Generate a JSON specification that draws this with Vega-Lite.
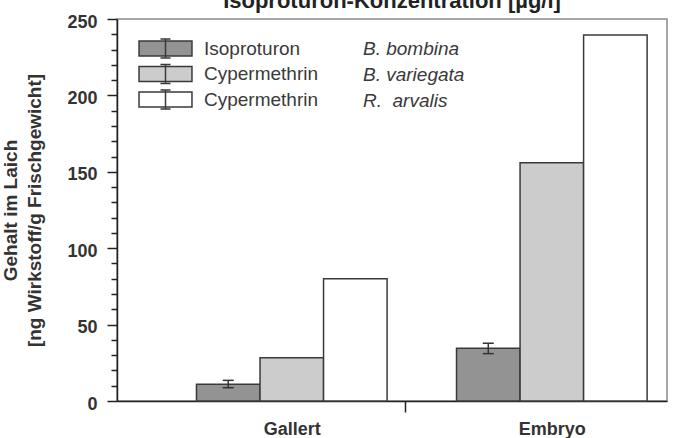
{
  "$schema": "https://vega.github.io/schema/vega-lite/v6.json",
  "width": 550,
  "height": 382,
  "autosize": {"type": "none"},
  "padding": {"left": 117, "top": 19, "right": 9, "bottom": 37},
  "background": "white",
  "config": {
    "font": "Liberation Sans",
    "view": {"stroke": "#8a8a8a", "strokeWidth": 1.5},
    "axisY": {
      "titleFontSize": 19,
      "titleFontWeight": "bold",
      "titleColor": "#333333",
      "titleLineHeight": 24,
      "titlePadding": 22,
      "grid": false,
      "domainColor": "#222222",
      "domainWidth": 1.5,
      "tickColor": "#222222",
      "tickWidth": 1.5,
      "labelFontSize": 18,
      "labelFontWeight": "bold",
      "labelColor": "#333333",
      "labelPadding": 10,
      "labelOffset": 3
    }
  },
  "title": {
    "text": "Isoproturon-Konzentration [µg/l]",
    "fontSize": 22,
    "fontWeight": "bold",
    "color": "#222222",
    "frame": "group",
    "anchor": "middle",
    "baseline": "alphabetic",
    "offset": -17
  },
  "data": {
    "values": [
      {"group": "Gallert", "series": "Isoproturon|B. bombina", "species": "B. bombina", "value": 11, "lo": 8.7, "hi": 13.5},
      {"group": "Gallert", "series": "Cypermethrin|B. variegata", "species": "B. variegata", "value": 28.3},
      {"group": "Gallert", "series": "Cypermethrin|R.  arvalis", "species": "R.\u00a0 arvalis", "value": 80},
      {"group": "Embryo", "series": "Isoproturon|B. bombina", "species": "B. bombina", "value": 34.5, "lo": 31, "hi": 37.8},
      {"group": "Embryo", "series": "Cypermethrin|B. variegata", "species": "B. variegata", "value": 156},
      {"group": "Embryo", "series": "Cypermethrin|R.  arvalis", "species": "R.\u00a0 arvalis", "value": 239.5}
    ]
  },
  "encoding": {
    "x": {
      "field": "group",
      "type": "nominal",
      "sort": ["Gallert", "Embryo"],
      "scale": {"paddingInner": 0.267, "paddingOuter": 0.191, "align": 0.8},
      "axis": {
        "title": null,
        "labelFontSize": 18,
        "labelFontWeight": "bold",
        "labelColor": "#333333",
        "labelAngle": 0,
        "labelBaseline": "top",
        "labelPadding": 8,
        "domainColor": "#222222",
        "domainWidth": 1.5,
        "tickColor": "#222222",
        "tickWidth": 1.5,
        "tickSize": 11,
        "bandPosition": 0.5,
        "tickOffset": -147,
        "labelOffset": 147,
        "tickOpacity": {"condition": {"test": "datum.value === 'Gallert'", "value": 0}, "value": 1}
      }
    },
    "xOffset": {
      "field": "series",
      "type": "nominal",
      "sort": ["Isoproturon|B. bombina", "Cypermethrin|B. variegata", "Cypermethrin|R.  arvalis"],
      "scale": {"paddingInner": 0, "paddingOuter": 0}
    }
  },
  "layer": [
    {
      "mark": {"type": "bar", "stroke": "#3a3a3a", "strokeWidth": 1.5},
      "encoding": {
        "y": {
          "field": "value",
          "type": "quantitative",
          "scale": {"domain": [0, 250], "nice": false},
          "axis": {
            "title": ["Gehalt im Laich", "[ng Wirkstoff/g Frischgewicht]"],
            "values": [0, 10, 20, 30, 40, 50, 60, 70, 80, 90, 100, 110, 120, 130, 140, 150, 160, 170, 180, 190, 200, 210, 220, 230, 240, 250],
            "labelExpr": "datum.value % 50 === 0 ? datum.label : ''",
            "tickSize": {"condition": {"test": "datum.value % 50 === 0", "value": 10}, "value": 6}
          }
        },
        "fill": {
          "field": "series",
          "type": "nominal",
          "scale": {
            "domain": ["Isoproturon|B. bombina", "Cypermethrin|B. variegata", "Cypermethrin|R.  arvalis"],
            "range": ["#939393", "#cccccc", "#ffffff"]
          },
          "legend": {
            "orient": "none",
            "legendX": 39,
            "legendY": 20,
            "title": null,
            "padding": 0,
            "symbolType": "M-3.53,-1H3.53V1H-3.53Z M0,-1.27V1.27 M-0.67,-1.27H0.67 M-0.67,1.27H0.67",
            "symbolSize": 225,
            "symbolStrokeColor": "#3a3a3a",
            "symbolStrokeWidth": 1.5,
            "symbolOpacity": 1,
            "labelExpr": "split(datum.label, '|')[0]",
            "labelFontSize": 19,
            "labelColor": "#3a3a3a",
            "labelOffset": 29,
            "rowPadding": -1.5
          }
        }
      }
    },
    {
      "transform": [{"filter": "isValid(datum.lo)"}],
      "mark": {"type": "rule", "color": "#333333", "strokeWidth": 1.5},
      "encoding": {
        "y": {
          "field": "lo",
          "type": "quantitative",
          "axis": {
            "title": ["Gehalt im Laich", "[ng Wirkstoff/g Frischgewicht]"],
            "values": [0, 10, 20, 30, 40, 50, 60, 70, 80, 90, 100, 110, 120, 130, 140, 150, 160, 170, 180, 190, 200, 210, 220, 230, 240, 250],
            "labelExpr": "datum.value % 50 === 0 ? datum.label : ''",
            "tickSize": {"condition": {"test": "datum.value % 50 === 0", "value": 10}, "value": 6}
          }
        },
        "y2": {"field": "hi"}
      }
    },
    {
      "transform": [{"filter": "isValid(datum.lo)"}],
      "mark": {"type": "tick", "color": "#333333", "thickness": 1.5, "opacity": 1},
      "encoding": {
        "y": {
          "field": "lo",
          "type": "quantitative",
          "axis": {
            "title": ["Gehalt im Laich", "[ng Wirkstoff/g Frischgewicht]"],
            "values": [0, 10, 20, 30, 40, 50, 60, 70, 80, 90, 100, 110, 120, 130, 140, 150, 160, 170, 180, 190, 200, 210, 220, 230, 240, 250],
            "labelExpr": "datum.value % 50 === 0 ? datum.label : ''",
            "tickSize": {"condition": {"test": "datum.value % 50 === 0", "value": 10}, "value": 6}
          }
        },
        "size": {"value": 11}
      }
    },
    {
      "transform": [{"filter": "isValid(datum.hi)"}],
      "mark": {"type": "tick", "color": "#333333", "thickness": 1.5, "opacity": 1},
      "encoding": {
        "y": {
          "field": "hi",
          "type": "quantitative",
          "axis": {
            "title": ["Gehalt im Laich", "[ng Wirkstoff/g Frischgewicht]"],
            "values": [0, 10, 20, 30, 40, 50, 60, 70, 80, 90, 100, 110, 120, 130, 140, 150, 160, 170, 180, 190, 200, 210, 220, 230, 240, 250],
            "labelExpr": "datum.value % 50 === 0 ? datum.label : ''",
            "tickSize": {"condition": {"test": "datum.value % 50 === 0", "value": 10}, "value": 6}
          }
        },
        "size": {"value": 11}
      }
    },
    {
      "mark": {"type": "point", "opacity": 0},
      "encoding": {
        "y": {
          "field": "value",
          "type": "quantitative",
          "axis": {
            "title": ["Gehalt im Laich", "[ng Wirkstoff/g Frischgewicht]"],
            "values": [0, 10, 20, 30, 40, 50, 60, 70, 80, 90, 100, 110, 120, 130, 140, 150, 160, 170, 180, 190, 200, 210, 220, 230, 240, 250],
            "labelExpr": "datum.value % 50 === 0 ? datum.label : ''",
            "tickSize": {"condition": {"test": "datum.value % 50 === 0", "value": 10}, "value": 6}
          }
        },
        "shape": {
          "field": "species",
          "type": "nominal",
          "scale": {"domain": ["B. bombina", "B. variegata", "R.\u00a0 arvalis"]},
          "legend": {
            "orient": "none",
            "legendX": 222,
            "legendY": 20,
            "title": null,
            "padding": 0,
            "symbolSize": 225,
            "symbolOpacity": 0,
            "labelFontSize": 19,
            "labelFontStyle": "italic",
            "labelColor": "#3a3a3a",
            "labelOffset": 5,
            "rowPadding": 6
          }
        }
      }
    }
  ]
}
